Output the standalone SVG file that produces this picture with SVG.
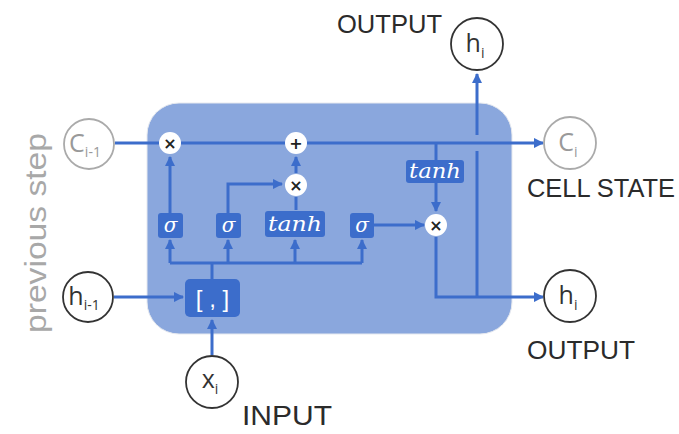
<svg xmlns="http://www.w3.org/2000/svg" width="679" height="434" viewBox="0 0 679 434">
<style>
.lbl{font-family:"Liberation Sans",Arial,sans-serif;fill:#2b2b2b;font-size:25px}
.ln{stroke:#3c6dcb;stroke-width:3;fill:none}
.box{fill:#3c6dcb}
.bt{font-family:"DejaVu Serif","Liberation Serif",serif;font-style:italic;fill:#fff;font-size:20px;text-anchor:middle}
.op{fill:#fff}
.opt{font-family:"DejaVu Sans",sans-serif;font-weight:bold;fill:#222;font-size:16px;text-anchor:middle}
.io{fill:#fff;stroke:#333;stroke-width:1.8}
.iog{fill:#fff;stroke:#aaa;stroke-width:1.8}
.iot{font-family:"Open Sans","Liberation Sans",Arial,sans-serif;font-size:25px;fill:#333;text-anchor:middle}
.iotg{font-family:"Open Sans","Liberation Sans",Arial,sans-serif;font-size:25px;fill:#999;text-anchor:middle}
</style>
<defs>
<marker id="ah" viewBox="0 0 10 10" refX="9" refY="5" markerWidth="3.5" markerHeight="3.5" orient="auto" markerUnits="strokeWidth">
<path d="M0,0 L10,5 L0,10 z" fill="#3c6dcb"/>
</marker>
</defs>
<rect width="679" height="434" fill="#fff"/>
<g id="cell">
<rect x="147" y="103" width="365" height="231" rx="32" fill="#8aa7dd" stroke="#e6e9ef" stroke-width="1"/>
</g>
<text class="lbl" x="0" y="0" transform="translate(46,333) rotate(-90)" style="fill:#a8a8a8;font-size:30px" textLength="200" lengthAdjust="spacingAndGlyphs">previous step</text>
<g id="connectors">
<line class="ln" x1="115" y1="143" x2="543" y2="143" marker-end="url(#ah)"/>
<line class="ln" x1="114" y1="297" x2="183" y2="297" marker-end="url(#ah)"/>
<line class="ln" x1="212" y1="355" x2="212" y2="320" marker-end="url(#ah)"/>
<line class="ln" x1="212" y1="279" x2="212" y2="263"/>
<polyline class="ln" points="170,263 362,263"/>
<line class="ln" x1="170" y1="263" x2="170" y2="240" marker-end="url(#ah)"/>
<line class="ln" x1="228" y1="263" x2="228" y2="240" marker-end="url(#ah)"/>
<line class="ln" x1="295" y1="263" x2="295" y2="240" marker-end="url(#ah)"/>
<line class="ln" x1="362" y1="263" x2="362" y2="240" marker-end="url(#ah)"/>
<line class="ln" x1="170" y1="213" x2="170" y2="157" marker-end="url(#ah)"/>
<polyline class="ln" points="228,213 228,184 282,184" marker-end="url(#ah)"/>
<line class="ln" x1="296" y1="210" x2="296" y2="197"/>
<line class="ln" x1="296" y1="173" x2="296" y2="157" marker-end="url(#ah)"/>
<line class="ln" x1="373" y1="225" x2="424" y2="225" marker-end="url(#ah)"/>
<line class="ln" x1="436" y1="143" x2="436" y2="160"/>
<line class="ln" x1="436" y1="183" x2="436" y2="211" marker-end="url(#ah)"/>
<polyline class="ln" points="436,237 436,297 543,297" marker-end="url(#ah)"/>
<line class="ln" x1="477" y1="297" x2="477" y2="151"/>
<line class="ln" x1="477" y1="135" x2="477" y2="74" marker-end="url(#ah)"/>
</g>
<g id="mul1"><circle class="op" cx="170" cy="143" r="11"/><text class="opt" x="170" y="149">×</text></g>
<g id="add"><circle class="op" cx="296" cy="143" r="11"/><text class="opt" x="296" y="149">+</text></g>
<g id="mul2"><circle class="op" cx="296" cy="185" r="11"/><text class="opt" x="296" y="191">×</text></g>
<g id="mul3"><circle class="op" cx="436" cy="225" r="11"/><text class="opt" x="436" y="231">×</text></g>
<g id="sig1"><rect class="box" x="158" y="213" width="25" height="25" rx="3"/><text class="bt" x="170.5" y="232">σ</text></g>
<g id="sig2"><rect class="box" x="216" y="213" width="25" height="25" rx="3"/><text class="bt" x="228.5" y="232">σ</text></g>
<g id="tanh1"><rect class="box" x="265" y="211" width="60" height="26" rx="3"/><text class="bt" x="295" y="231" textLength="54" lengthAdjust="spacingAndGlyphs">tanh</text></g>
<g id="sig3"><rect class="box" x="350" y="213" width="24" height="25" rx="3"/><text class="bt" x="362" y="232">σ</text></g>
<g id="tanh2"><rect class="box" x="406" y="160" width="58" height="23" rx="3"/><text class="bt" x="435" y="178" textLength="52" lengthAdjust="spacingAndGlyphs">tanh</text></g>
<g id="concat"><rect class="box" x="185" y="279" width="55" height="38" rx="5"/><text x="212.5" y="307" style="font-family:'Liberation Sans',Arial,sans-serif;font-size:24px;fill:#fff;text-anchor:middle">[ , ]</text></g>
<g id="c_prev"><circle class="iog" cx="89" cy="144" r="25"/><text class="iotg" x="85" y="152">C<tspan font-size="14" dy="5">i-1</tspan></text></g>
<g id="h_prev"><circle class="io" cx="88" cy="297" r="25"/><text class="iot" x="84" y="305">h<tspan font-size="14" dy="5">i-1</tspan></text></g>
<g id="x_in"><circle class="io" cx="212" cy="382" r="26"/><text class="iot" x="210" y="388">x<tspan font-size="14" dy="6">i</tspan></text></g>
<g id="h_top"><circle class="io" cx="477" cy="44" r="26"/><text class="iot" x="475" y="52">h<tspan font-size="14" dy="6">i</tspan></text></g>
<g id="c_out"><circle class="iog" cx="570" cy="143" r="26"/><text class="iotg" x="568" y="151">C<tspan font-size="14" dy="6">i</tspan></text></g>
<g id="h_out"><circle class="io" cx="570" cy="296" r="26"/><text class="iot" x="568" y="304">h<tspan font-size="14" dy="6">i</tspan></text></g>
<text class="lbl" x="337" y="33" textLength="105" lengthAdjust="spacingAndGlyphs">OUTPUT</text>
<text class="lbl" x="527" y="197" textLength="148" lengthAdjust="spacingAndGlyphs">CELL STATE</text>
<text class="lbl" x="527" y="359" textLength="108" lengthAdjust="spacingAndGlyphs">OUTPUT</text>
<text class="lbl" x="242" y="425" style="font-size:27px" textLength="90" lengthAdjust="spacingAndGlyphs">INPUT</text>
</svg>
